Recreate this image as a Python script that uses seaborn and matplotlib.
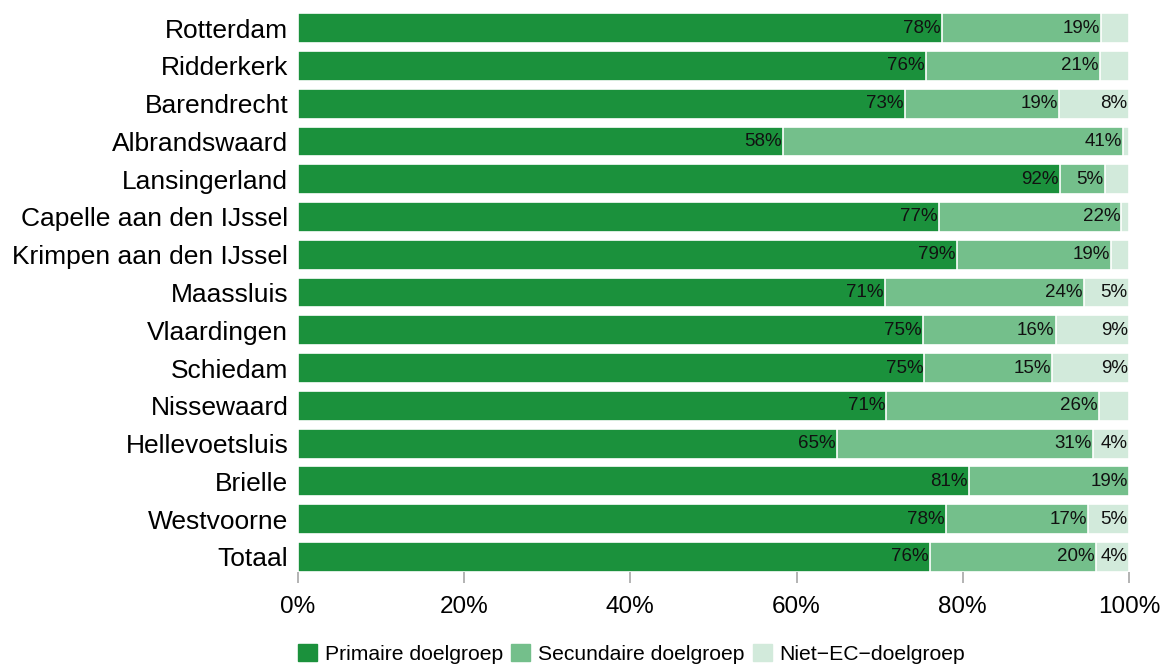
import pandas as pd
import matplotlib.pyplot as plt
import matplotlib.patches as mpatches
import seaborn as sns

# Data (percentages)
gemeenten = ['Rotterdam', 'Ridderkerk', 'Barendrecht', 'Albrandswaard', 'Lansingerland',
             'Capelle aan den IJssel', 'Krimpen aan den IJssel', 'Maassluis', 'Vlaardingen',
             'Schiedam', 'Nissewaard', 'Hellevoetsluis', 'Brielle', 'Westvoorne', 'Totaal']
primair = [77.5, 75.6, 73.0, 58.4, 91.7, 77.1, 79.3, 70.6, 75.2, 75.4, 70.8, 64.9, 80.7, 78.0, 76.1]
secundair = [19.2, 20.9, 18.6, 40.9, 5.4, 22.0, 18.6, 24.0, 16.0, 15.4, 25.6, 30.8, 19.3, 17.1, 19.9]
niet_ec = [3.3, 3.5, 8.4, 0.7, 2.9, 0.9, 2.1, 5.4, 8.8, 9.2, 3.6, 4.3, 0.0, 4.9, 4.0]

series = ['Primaire doelgroep', 'Secundaire doelgroep', 'Niet\u2212EC\u2212doelgroep']
colors = ['#1b913c', '#74bf8b', '#d2eadb']

df = pd.DataFrame({'gemeente': gemeenten, 'p': primair, 's': secundair, 'n': niet_ec})
df['cum_p'] = df['p']
df['cum_s'] = df['p'] + df['s']
df['cum_n'] = df['p'] + df['s'] + df['n']

sns.set_theme(style='white')
plt.rcParams['font.family'] = ['Liberation Sans', 'DejaVu Sans']
plt.rcParams['text.color'] = 'black'

fig, ax = plt.subplots(figsize=(11.65, 6.68), dpi=100)
fig.subplots_adjust(left=0.2558, right=0.969, top=0.9805, bottom=0.1437)

# stacked bars: draw the cumulative totals from back to front
for col, color in zip(['cum_n', 'cum_s', 'cum_p'], colors[::-1]):
    sns.barplot(data=df, x=col, y='gemeente', orient='h', color=color,
                saturation=1, width=0.79, edgecolor='white', linewidth=1.2, ax=ax)

# percentage labels at the right end of each segment (small ones skipped)
for i, row in df.iterrows():
    for val, end in [(row['p'], row['cum_p']), (row['s'], row['cum_s']), (row['n'], row['cum_n'])]:
        if val >= 3.95:
            ax.text(end - 0.15, i, f"{round(val):.0f}%", ha='right', va='center',
                    fontsize=13.5, color='#111111')

ax.set_xlim(0, 100)
ax.set_ylim(14.4, -0.4)
ax.set_xticks([0, 20, 40, 60, 80, 100])
ax.set_xticklabels(['0%', '20%', '40%', '60%', '80%', '100%'], fontsize=17.5)
ax.tick_params(axis='x', bottom=True, length=8, color='#aaaaaa', pad=9, labelcolor='black')
ax.tick_params(axis='y', left=False, labelsize=19, pad=1, labelcolor='black')
ax.set_xlabel('')
ax.set_ylabel('')
sns.despine(ax=ax, left=True, bottom=True)

handles = [mpatches.Patch(color=c, label=l) for c, l in zip(colors, series)]
fig.legend(handles=handles, loc='lower center', bbox_to_anchor=(0.542, -0.022), ncol=3,
           frameon=False, fontsize=15.2, handlelength=0.9, handleheight=0.9,
           handletextpad=0.35, columnspacing=0.4)

fig.savefig('out.png', dpi=100)
